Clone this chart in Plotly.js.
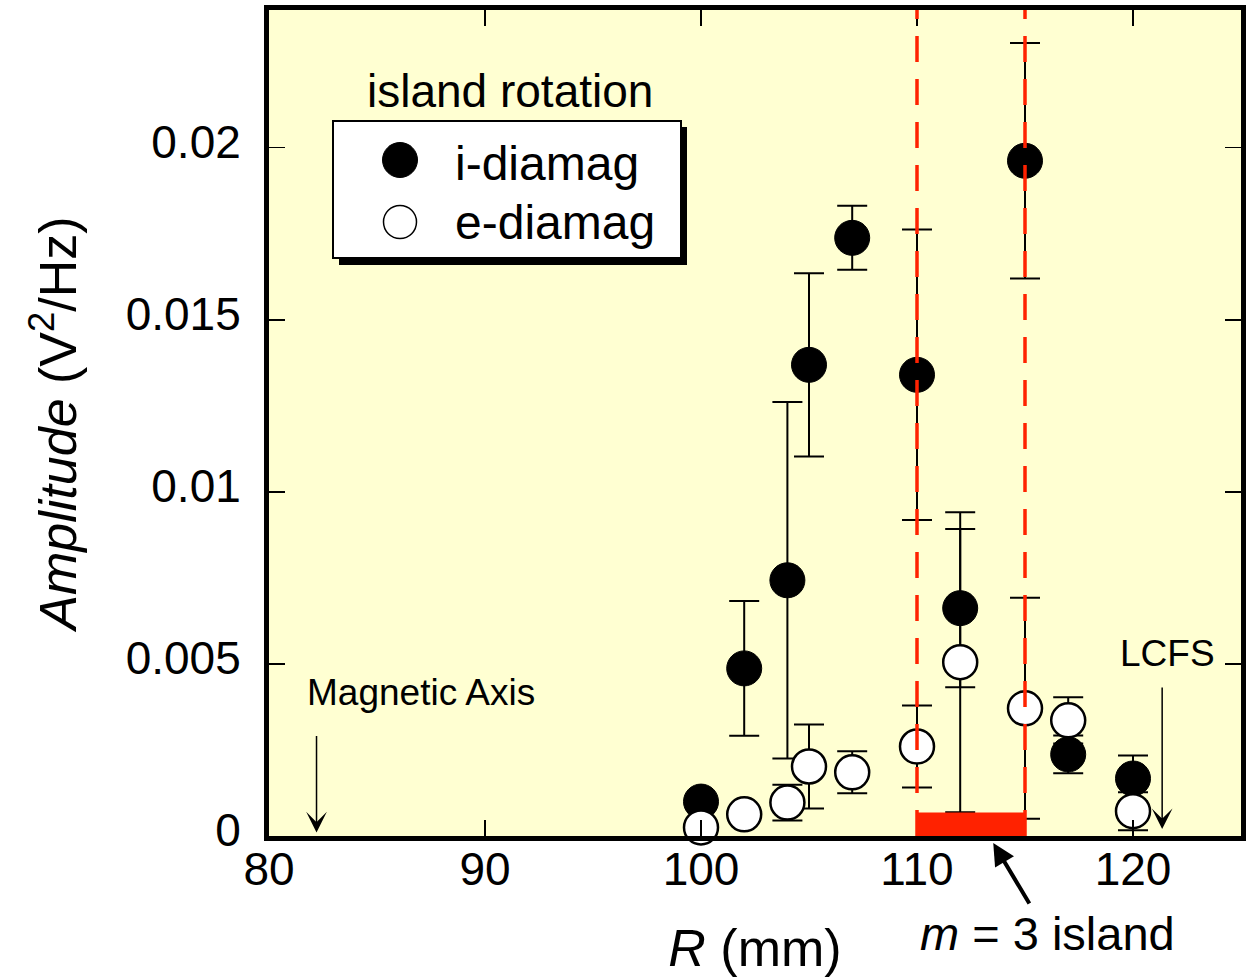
<!DOCTYPE html>
<html>
<head>
<meta charset="utf-8">
<script src="https://cdn.plot.ly/plotly-3.0.1.min.js"></script>
<style>
html,body{margin:0;padding:0;background:#fff;}
#chart{width:1249px;height:977px;}
</style>
</head>
<body>
<div id="chart"></div>
<script>
// Radial position R (mm)
const radius = [100, 102, 104, 105, 107, 110, 112, 115, 117, 120];
// ion diamagnetic direction amplitude (V^2/Hz) and error
const iDiamag    = [0.00100, 0.00487, 0.00743, 0.01369, 0.01738, 0.01340, 0.00662, 0.01962, 0.00237, 0.00167];
const iDiamagErr = [0,       0.00196, 0.00518, 0.00266, 0.00093, 0.00422, 0.00230, 0.00342, 0.00055, 0.00067];
// electron diamagnetic direction amplitude (V^2/Hz) and error
const eDiamag    = [0.00025, 0.00063, 0.00097, 0.00202, 0.00185, 0.00260, 0.00505, 0.00371, 0.00336, 0.00072];
const eDiamagErr = [0,       0,       0.00052, 0.00122, 0.00061, 0.00119, 0.00436, 0.00321, 0.00067, 0.00055];
// island region and markers
const islandEdges = [110, 115];
const islandBarHeight = 0.00068;
const magneticAxisR = 82.2;
const lcfsR = 121.35;
const xTickVals = [80, 90, 100, 110, 120];
const xTickText = ['80', '90', '100', '110', '120'];
const yTickVals = [0, 0.005, 0.01, 0.015, 0.02];
const yTickText = ['0', '0.005', '0.01', '0.015', '0.02'];
const seriesNames = ['i-diamag', 'e-diamag'];

const FONT = 'Liberation Sans, Arial, Helvetica, sans-serif';
const RED = '#ff2200';
const BG = '#ffffd2';

const traces = [
  {
    x: radius, y: iDiamag, name: seriesNames[0], type: 'scatter', mode: 'markers',
    marker: {size: 35, color: '#000', line: {color: '#000', width: 1}},
    error_y: {type: 'data', array: iDiamagErr, visible: true, color: '#000', thickness: 2, width: 15},
    showlegend: false, cliponaxis: false
  },
  {
    x: radius, y: eDiamag, name: seriesNames[1], type: 'scatter', mode: 'markers',
    marker: {size: 34, color: '#fff', line: {color: '#000', width: 2.5}},
    error_y: {type: 'data', array: eDiamagErr, visible: true, color: '#000', thickness: 2, width: 15},
    showlegend: false, cliponaxis: false
  }
];

// paper coordinate helpers for the hand-drawn legend (plot area 269..1241 x, 10..836 y)
const L = 269, R = 1241, T = 10, B = 836;
const px = v => (v - L) / (R - L);
const py = v => (B - v) / (B - T);

const shapes = [
  // island region dashed boundaries
  {type: 'line', xref: 'x', yref: 'paper', x0: islandEdges[0], x1: islandEdges[0], y0: 0, y1: 1,
   line: {color: RED, width: 3.5, dash: '26px,17px'}, layer: 'above'},
  {type: 'line', xref: 'x', yref: 'paper', x0: islandEdges[1], x1: islandEdges[1], y0: 0, y1: 1,
   line: {color: RED, width: 3.5, dash: '26px,17px'}, layer: 'above'},
  // island bar
  {type: 'rect', xref: 'x', yref: 'y', x0: islandEdges[0], x1: islandEdges[1], y0: 0, y1: islandBarHeight,
   fillcolor: RED, line: {width: 0}, layer: 'above'},
  // legend shadow
  {type: 'rect', xref: 'paper', yref: 'paper', x0: px(339), x1: px(687), y0: py(265), y1: py(127),
   fillcolor: '#000', line: {width: 0}, layer: 'above'},
  // legend box
  {type: 'rect', xref: 'paper', yref: 'paper', x0: px(333), x1: px(681), y0: py(258), y1: py(121),
   fillcolor: '#fff', line: {color: '#000', width: 2}, layer: 'above'},
  // legend markers
  {type: 'circle', xref: 'paper', yref: 'paper', xsizemode: 'pixel', ysizemode: 'pixel',
   xanchor: px(400), yanchor: py(160), x0: -17.5, x1: 17.5, y0: -17.5, y1: 17.5,
   fillcolor: '#000', line: {color: '#000', width: 1}, layer: 'above'},
  {type: 'circle', xref: 'paper', yref: 'paper', xsizemode: 'pixel', ysizemode: 'pixel',
   xanchor: px(400), yanchor: py(222), x0: -16.5, x1: 16.5, y0: -16.5, y1: 16.5,
   fillcolor: '#fff', line: {color: '#000', width: 1.5}, layer: 'above'}
];

const annotations = [
  {text: 'island rotation', xref: 'paper', yref: 'paper', x: px(510), y: py(91),
   xanchor: 'center', yanchor: 'middle', showarrow: false, font: {family: FONT, size: 46, color: '#000'}},
  {text: seriesNames[0], xref: 'paper', yref: 'paper', x: px(453), y: py(163),
   xanchor: 'left', yanchor: 'middle', showarrow: false, font: {family: FONT, size: 48, color: '#000'}},
  {text: seriesNames[1], xref: 'paper', yref: 'paper', x: px(453), y: py(222),
   xanchor: 'left', yanchor: 'middle', showarrow: false, font: {family: FONT, size: 48, color: '#000'}},
  // Magnetic Axis
  {text: 'Magnetic Axis', xref: 'x', yref: 'y', x: 81.65, y: 0.00417,
   xanchor: 'left', yanchor: 'middle', showarrow: false, font: {family: FONT, size: 37, color: '#000'}},
  {text: '', xref: 'x', yref: 'y', x: magneticAxisR, y: 0.0001, ax: 0, ay: -98,
   showarrow: true, arrowhead: 3, arrowsize: 2.3, arrowwidth: 1.5, arrowcolor: '#000'},
  // LCFS
  {text: 'LCFS', xref: 'x', yref: 'y', x: 121.6, y: 0.00531,
   xanchor: 'center', yanchor: 'middle', showarrow: false, font: {family: FONT, size: 37, color: '#000'}},
  {text: '', xref: 'x', yref: 'y', x: lcfsR, y: 0.0002, ax: 0, ay: -143,
   showarrow: true, arrowhead: 3, arrowsize: 2.3, arrowwidth: 1.5, arrowcolor: '#000'},
  // m = 3 island
  {text: '<i>m</i> = 3 island', xref: 'x', yref: 'paper', x: 116.03, y: py(933),
   xanchor: 'center', yanchor: 'middle', showarrow: false, font: {family: FONT, size: 47, color: '#000'}},
  {text: '', xref: 'x', yref: 'paper', x: 113.53, y: py(843), ax: 37, ay: 62,
   showarrow: true, arrowhead: 2, arrowsize: 1.1, arrowwidth: 4, arrowcolor: '#000'}
];

const layout = {
  width: 1249, height: 977,
  margin: {l: L, r: 1249 - R, t: T, b: 977 - B, pad: 0},
  paper_bgcolor: '#fff',
  plot_bgcolor: BG,
  font: {family: FONT, color: '#000'},
  showlegend: false,
  xaxis: {
    range: [80, 125], tickvals: xTickVals, ticktext: xTickText,
    showgrid: false, zeroline: false,
    showline: true, linecolor: '#000', linewidth: 5, mirror: 'ticks',
    ticks: 'inside', ticklen: 16, tickwidth: 1.5, tickcolor: '#000',
    tickfont: {family: FONT, size: 46, color: '#000'},
    ticklabelstandoff: -11,
    title: {text: '<i>R</i> (mm)', font: {family: FONT, size: 52, color: '#000'}, standoff: 37},
    automargin: false
  },
  yaxis: {
    range: [0, 0.024], tickvals: yTickVals, ticktext: yTickText,
    showgrid: false, zeroline: false,
    showline: true, linecolor: '#000', linewidth: 5, mirror: 'ticks',
    ticks: 'inside', ticklen: 16, tickwidth: 1.5, tickcolor: '#000',
    tickfont: {family: FONT, size: 46, color: '#000'},
    ticklabelstandoff: 14, ticklabelshift: -6,
    title: {text: '<i>Amplitude</i> (V<sup>2</sup>/Hz)', font: {family: FONT, size: 52, color: '#000'}, standoff: 34},
    automargin: false
  },
  shapes: shapes,
  annotations: annotations
};

Plotly.newPlot('chart', traces, layout, {displayModeBar: false, staticPlot: true});
</script>
</body>
</html>
